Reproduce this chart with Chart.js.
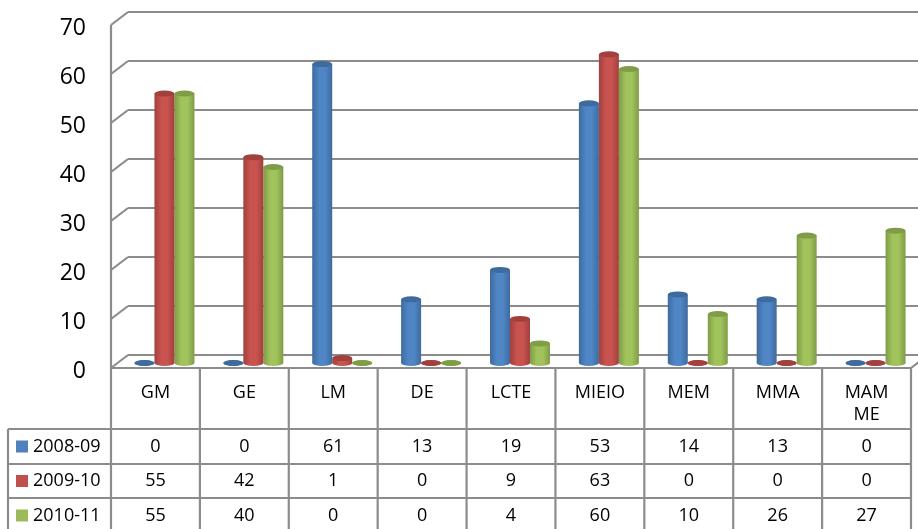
<!DOCTYPE html>
<html>
<head>
<meta charset="utf-8">
<style>
  html, body { margin: 0; padding: 0; background: #fff; }
  canvas { display: block; }
</style>
</head>
<body>
<canvas id="chart" width="918" height="529"></canvas>
<script src="https://cdn.jsdelivr.net/npm/chart.js@4"></script>
<script>
const categories = ['GM', 'GE', 'LM', 'DE', 'LCTE', 'MIEIO', 'MEM', 'MMA', ['MAM', 'ME']];
const seriesNames = ['2008-09', '2009-10', '2010-11'];
const values0809 = [0, 0, 61, 13, 19, 53, 14, 13, 0];
const values0910 = [55, 42, 1, 0, 9, 63, 0, 0, 0];
const values1011 = [55, 40, 0, 0, 4, 60, 10, 26, 27];
const colors = ['#4f81bd', '#c0504d', '#9bbb59'];
const darkColors = ['#3f6a9e', '#a0413e', '#7f9c47'];
const lightColors = ['#4f86c6', '#c9534f', '#a1c35c'];

const allValues = [values0809, values0910, values1011];
const gridColor = '#8c8c8c';
const depthX = 17, depthY = 13;   // back wall offset
const barShiftX = 9, barShiftY = 5; // bars stand in the middle of the floor
const tableTop = 368, tableLeft = 8;
const rowTops = [429, 464, 498, 533];
const tableFont = '18px "Open Sans"';

function line(ctx, x1, y1, x2, y2) {
    ctx.beginPath();
    ctx.moveTo(x1, y1);
    ctx.lineTo(x2, y2);
    ctx.stroke();
}

const frame3d = {
    id: 'frame3d',
    // tick labels sit a little below their gridline
    beforeDraw(chart) {
        chart.scales.y.getLabelItems().forEach(item => {
            item.options.translation[1] += 3;
        });
    },
    // walls and floor behind the bars
    beforeDatasetsDraw(chart) {
        const ctx = chart.ctx;
        const y = chart.scales.y;
        const area = chart.chartArea;
        ctx.save();
        ctx.strokeStyle = gridColor;
        ctx.lineWidth = 2.2;
        y.ticks.forEach(t => {
            const py = y.getPixelForValue(t.value);
            line(ctx, area.left, py, area.left + depthX, py - depthY);
            line(ctx, area.left + depthX, py - depthY, chart.width, py - depthY);
        });
        line(ctx, area.left, area.top, area.left, area.bottom);
        line(ctx, area.left, area.bottom, area.right, area.bottom);
        line(ctx, area.right, area.bottom, area.right + depthX, area.bottom - depthY);
        ctx.restore();

        // cylinder shading for each bar
        chart.data.datasets.forEach((ds, i) => {
            chart.getDatasetMeta(i).data.forEach(bar => {
                const half = bar.width / 2;
                const g = ctx.createLinearGradient(bar.x - half, 0, bar.x + half, 0);
                g.addColorStop(0, darkColors[i]);
                g.addColorStop(0.35, lightColors[i]);
                g.addColorStop(0.65, lightColors[i]);
                g.addColorStop(1, darkColors[i]);
                bar.options = Object.assign({}, bar.options, { backgroundColor: g });
            });
        });
        ctx.save();
        ctx.translate(barShiftX, -barShiftY);
        chart.data.datasets.forEach((ds, i) => {
            chart.getDatasetMeta(i).data.forEach(bar => {
                ctx.fillStyle = bar.options.backgroundColor;
                ctx.beginPath();
                ctx.ellipse(bar.x, bar.base, bar.width / 2, 3, 0, 0, Math.PI * 2);
                ctx.fill();
            });
        });
    },
    afterDatasetsDraw(chart) {
        const ctx = chart.ctx;
        chart.data.datasets.forEach((ds, i) => {
            chart.getDatasetMeta(i).data.forEach(bar => {
                ctx.fillStyle = darkColors[i];
                ctx.beginPath();
                ctx.ellipse(bar.x, bar.y, bar.width / 2, 3, 0, 0, Math.PI * 2);
                ctx.fill();
            });
        });
        ctx.restore();
    },
    // data table under the axis
    afterDraw(chart) {
        const ctx = chart.ctx;
        const area = chart.chartArea;
        const x = chart.scales.x;
        const cellW = (area.right - area.left) / categories.length;
        ctx.save();
        ctx.strokeStyle = gridColor;
        ctx.lineWidth = 2.2;
        for (let c = 0; c <= categories.length; c++) {
            const px = area.left + c * cellW;
            line(ctx, px, tableTop, px, chart.height);
        }
        line(ctx, tableLeft, rowTops[0], tableLeft, chart.height);
        rowTops.forEach(r => line(ctx, tableLeft, r, area.right, r));

        ctx.font = tableFont;
        ctx.textBaseline = 'middle';
        seriesNames.forEach((name, r) => {
            const cy = (rowTops[r] + rowTops[r + 1]) / 2;
            ctx.fillStyle = colors[r];
            ctx.fillRect(16, cy - 6, 12, 12);
            ctx.fillStyle = '#000';
            ctx.textAlign = 'left';
            ctx.fillText(name, 33, cy);
            ctx.textAlign = 'center';
            allValues[r].forEach((v, c) => {
                ctx.fillText(String(v), x.getPixelForValue(c), cy);
            });
        });
        ctx.restore();
    }
};

new Chart(document.getElementById('chart').getContext('2d'), {
    type: 'bar',
    plugins: [frame3d],
    data: {
        labels: categories,
        datasets: seriesNames.map((name, i) => ({
            label: name,
            data: allValues[i],
            backgroundColor: colors[i],
            clip: false,
            categoryPercentage: 0.675,
            barPercentage: 1
        }))
    },
    options: {
        responsive: false,
        animation: false,
        layout: { padding: { top: 25, right: 7, left: 0, bottom: 0 } },
        plugins: {
            legend: { display: false },
            tooltip: { enabled: false }
        },
        scales: {
            y: {
                min: 0,
                max: 70,
                afterFit(scale) {
                    scale.width = 111;
                    scale.paddingTop = 0;
                    scale.paddingBottom = 0;
                },
                border: { display: false },
                grid: { display: false },
                ticks: {
                    stepSize: 10,
                    padding: 17,
                    color: '#000',
                    font: { family: 'Open Sans', size: 23 }
                }
            },
            x: {
                afterFit(scale) { scale.height = 161; },
                border: { display: false },
                grid: { display: false },
                ticks: {
                    autoSkip: false,
                    maxRotation: 0,
                    padding: 6,
                    color: '#000',
                    font: { family: 'Open Sans', size: 18 }
                }
            }
        }
    }
});
</script>
</body>
</html>
